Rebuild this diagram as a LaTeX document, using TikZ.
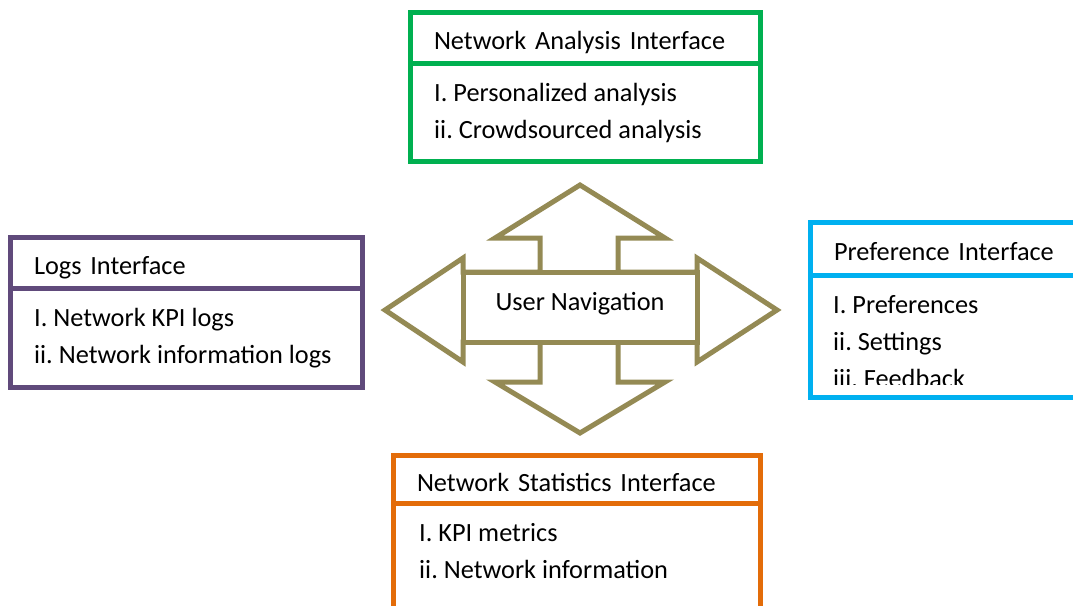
\documentclass[tikz,border=0pt]{standalone}
\usepackage{fontspec}
\setmainfont{Carlito}
\usetikzlibrary{positioning}
\definecolor{anagreen}{HTML}{00B050}
\definecolor{logpurple}{HTML}{604A7B}
\definecolor{prefblue}{HTML}{00B0F0}
\definecolor{statorange}{HTML}{E36C09}
\definecolor{navolive}{HTML}{948A54}
\tikzset{
  panel/.style={rectangle, draw=#1, line width=5pt, outer sep=0pt, inner xsep=24pt, inner ysep=0pt, align=left},
  head/.style={panel=#1, minimum height=51pt, text height=24pt, text depth=0pt},
  body/.style={panel=#1},
  item/.style={inner sep=0pt, anchor=base west},
  navbox/.style={rectangle, draw=navolive, fill=white, line width=5pt, outer sep=0pt, minimum width=234pt, minimum height=70pt, text height=12pt, text depth=6pt}
}
\frenchspacing
\begin{document}
\begin{tikzpicture}[x=1pt, y=-1pt, font=\fontsize{26.3}{37}\selectfont, line join=miter]
	\useasboundingbox (0,0) rectangle (1073,605);
	% Navigation arrows
	\draw [navolive, line width=5pt] (385,310) -- (463,258) -- (463,272) -- (540,272) -- (540,238) -- (495,238) -- (580,185) -- (665,238) -- (618,238) -- (618,272) -- (697,272) -- (697,258) -- (777,310) -- (697,362) -- (697,342) -- (618,342) -- (618,382) -- (665,382) -- (580,433) -- (495,382) -- (540,382) -- (540,342) -- (463,342) -- (463,362) -- cycle;
	\node [navbox] (nav) at (580,307) {User Navigation};
	% Network analysis
	\node [head=anagreen, text width=302pt, anchor=north west] (ana) at (410,12) {Network Analysis Interface};
	\node [body=anagreen, text width=302pt, minimum height=98pt, below=0pt of ana] (ana-b) {};
	\node [item] (ana-1) at ([xshift=24pt,yshift=-38pt]ana-b.north west) {I. Personalized analysis};
	\node [item] (ana-2) at ([yshift=-37pt]ana-1.base west) {ii. Crowdsourced analysis};
	% Logs
	\node [head=logpurple, text width=304pt, anchor=north west] (log) at (10,237) {Logs Interface};
	\node [body=logpurple, text width=304pt, minimum height=99pt, below=0pt of log] (log-b) {};
	\node [item] (log-1) at ([xshift=24pt,yshift=-38pt]log-b.north west) {I. Network KPI logs};
	\node [item] (log-2) at ([yshift=-37pt]log-1.base west) {ii. Network information logs};
	% Preferences
	\node [head=prefblue, text width=227pt, minimum height=53pt, anchor=north west] (pref) at (810,222) {Preference Interface};
	\node [body=prefblue, text width=227pt, minimum height=122pt, below=0pt of pref] (pref-b) {};
	\begin{scope}
		\clip (810,275) rectangle (1085,384);
		\node [item] (pref-1) at ([xshift=23pt,yshift=-38pt]pref-b.north west) {I. Preferences};
		\node [item] (pref-2) at ([yshift=-37pt]pref-1.base west) {ii. Settings};
		\node [item] (pref-3) at ([yshift=-37pt]pref-2.base west) {iii. Feedback};
	\end{scope}
	% Statistics
	\node [head=statorange, text width=319pt, minimum height=48pt, anchor=north west] (stat) at (393,455) {Network Statistics Interface};
	\node [body=statorange, text width=319pt, minimum height=120pt, below=0pt of stat] (stat-b) {};
	\node [item] (stat-1) at ([xshift=26pt,yshift=-38pt]stat-b.north west) {I. KPI metrics};
	\node [item] (stat-2) at ([yshift=-37pt]stat-1.base west) {ii. Network information};
\end{tikzpicture}
\end{document}
